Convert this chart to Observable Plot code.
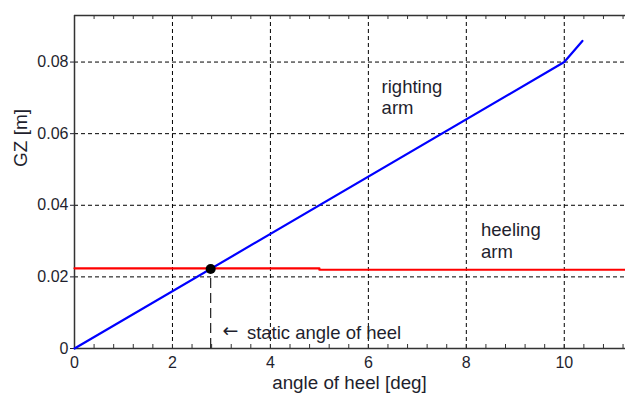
<!DOCTYPE html>
<html>
<head>
<meta charset="utf-8">
<script src="https://cdn.jsdelivr.net/npm/d3@7"></script>
<script src="https://cdn.jsdelivr.net/npm/@observablehq/plot@0.6"></script>
<style>
  html, body { margin: 0; padding: 0; background: #fff; }
  svg { display: block; }
</style>
</head>
<body>
<div id="chart"></div>
<script>
// Data
const rightingAngle = [0, 10, 10.37];
const rightingGZ = [0, 0.08, 0.0859];
const heelingAngle = [0, 5, 5, 11.25];
const heelingGZ = [0.0224, 0.0224, 0.0220, 0.0220];
const staticAngle = [2.78];
const staticGZ = [0.0222];
const xTicks = [0, 2, 4, 6, 8, 10];
const xMinorTicks = d3.range(0, 56).map(i => +(i * 0.4).toFixed(1)).filter(v => v <= 11.25);
const yTicks = [0, 0.02, 0.04, 0.06, 0.08];
const xDomain = [0, 11.25];
const yDomain = [0, 0.093];
const labels = [
  {x: 6.27, y: 0.0758, text: "righting\narm"},
  {x: 8.30, y: 0.0357, text: "heeling\narm"},
  {x: 3.52, y: 0.0071, text: "static angle of heel"}
];
const arrowLabels = [{x: 3.02, y: 0.0071, text: "\u2190"}];

const righting = rightingAngle.map((a, i) => ({angle: a, gz: rightingGZ[i]}));
const heeling = heelingAngle.map((a, i) => ({angle: a, gz: heelingGZ[i]}));
const staticPt = staticAngle.map((a, i) => ({angle: a, gz: staticGZ[i]}));

const font = "'Liberation Sans', Arial, sans-serif";
const textColor = "#1f1f2e";

const chart = Plot.plot({
  width: 625,
  height: 394,
  marginLeft: 74,
  marginRight: 0,
  marginTop: 15,
  marginBottom: 46,
  style: {fontFamily: font, color: textColor, background: "#fff"},
  x: {domain: xDomain},
  y: {domain: yDomain},
  marks: [
    // grid
    Plot.gridX({ticks: xTicks.filter(d => d > 0), stroke: "#000", strokeOpacity: 1, strokeDasharray: "4,3", strokeWidth: 1}),
    Plot.gridY({ticks: yTicks.filter(d => d > 0), stroke: "#000", strokeOpacity: 1, strokeDasharray: "4,3", strokeWidth: 1}),
    // minor ticks bottom and top (inward)
    Plot.ruleX(xMinorTicks, {x: d => d, y1: yDomain[0], y2: yDomain[0], insetTop: 0, insetBottom: 4, stroke: "#333", strokeWidth: 1}),
    Plot.ruleX(xMinorTicks, {x: d => d, y1: yDomain[1], y2: yDomain[1], insetTop: 0, insetBottom: -4, stroke: "#333", strokeWidth: 1}),
    // axes
    Plot.axisX({ticks: xTicks, tickSize: 0, tickPadding: 8, fontSize: 16, label: null, fill: textColor}),
    Plot.axisY({ticks: yTicks, tickSize: 4, tickPadding: 2, fontSize: 16, tickFormat: d => d === 0 ? "0" : d.toFixed(2), label: null, fill: textColor}),
    // frame lines
    Plot.ruleY([yDomain[0]], {stroke: "#333", strokeWidth: 1.5}),
    Plot.ruleY([yDomain[1]], {stroke: "#333", strokeWidth: 1.5}),
    Plot.ruleX([xDomain[0]], {stroke: "#333", strokeWidth: 1.5}),
    // static angle dashed drop line
    Plot.ruleX(staticPt, {x: "angle", y1: 0, y2: "gz", stroke: "#222", strokeWidth: 1.2, strokeDasharray: "10,5"}),
    // curves
    Plot.line(heeling, {x: "angle", y: "gz", stroke: "#ff0000", strokeWidth: 2.2}),
    Plot.line(righting, {x: "angle", y: "gz", stroke: "#0000ff", strokeWidth: 2.2}),
    Plot.dot(staticPt, {x: "angle", y: "gz", r: 5, fill: "#000", stroke: "none"}),
    // annotations
    Plot.text(labels, {x: "x", y: "y", text: "text", textAnchor: "start", lineAnchor: "top", fontSize: 18.5, lineHeight: 1.18, fill: textColor}),
    Plot.text(arrowLabels, {x: "x", y: "y", text: "text", textAnchor: "start", lineAnchor: "top", fontSize: 19, fontFamily: "'DejaVu Sans', sans-serif", fill: textColor})
  ]
});

const svg = d3.select(chart);
// x label
svg.append("text")
  .attr("x", 349.5)
  .attr("y", 389)
  .attr("text-anchor", "middle")
  .attr("font-family", font)
  .attr("font-size", 18.8)
  .attr("fill", textColor)
  .text("angle of heel [deg]");
// y label
svg.append("text")
  .attr("transform", "translate(22,138) rotate(-90)")
  .attr("text-anchor", "middle")
  .attr("dominant-baseline", "middle")
  .attr("font-family", font)
  .attr("font-size", 19)
  .attr("fill", textColor)
  .text("GZ [m]");

document.getElementById("chart").appendChild(chart);
</script>
</body>
</html>
